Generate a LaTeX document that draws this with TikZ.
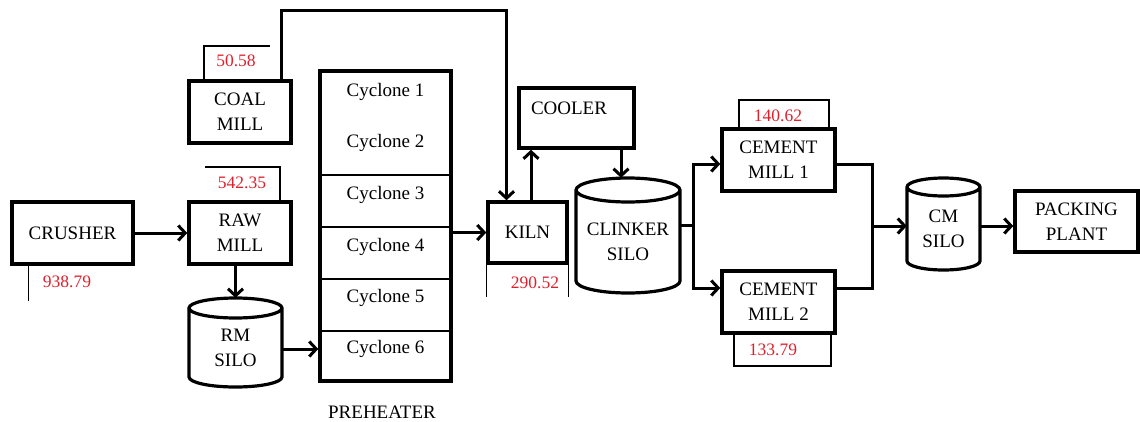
\documentclass[tikz,border=0pt]{standalone}
\usepackage{fontspec}
\setmainfont{Liberation Serif}
\usetikzlibrary{arrows.meta,calc}
\definecolor{lblred}{RGB}{222,32,45}
\tikzset{
 box/.style={draw, line width=3.4pt, inner sep=0pt, align=center, font=\fontsize{19}{25}\selectfont},
 conn/.style={line width=3pt},
 arr/.style={conn, -{Straight Barb[length=7pt,width=15pt]}},
 lbl/.style={text=lblred, font=\fontsize{17.5}{19}\selectfont, inner sep=0pt},
 frame/.style={line width=1.1pt},
 txt/.style={font=\fontsize{19}{25}\selectfont, align=center, inner sep=0pt},
 divider/.style={line width=1.6pt},
 silobody/.style={line width=3.2pt},
}
% #1 name, #2 x1, #3 ytop, #4 x2, #5 ybot, #6 rx, #7 ry, #8 text
\newcommand\mysilo[8]{%
 \node[inner sep=0pt, minimum width={#4-#2}, minimum height={#5-#3}] (#1) at ({(#2+#4)/2},{(#3+#5)/2}) {};
 \node[txt] at ({(#2+#4)/2},{(#3+#5)/2+#7/2}) {#8};
 \draw[silobody] (#2,{#3+#7}) -- (#2,{#5-#7})
   arc[start angle=180, end angle=360, x radius=#6pt, y radius=#7pt]
   -- (#4,{#3+#7})
   arc[start angle=0, end angle=360, x radius=#6pt, y radius=#7pt];
}
\begin{document}
\begin{tikzpicture}[x=1pt,y=-1pt]
\useasboundingbox (0,0) rectangle (1140,421);

% main boxes
\node[box, minimum width=121, minimum height=62] (crusher) at (72.5,233) {CRUSHER};
\node[box, minimum width=102, minimum height=62] (rawmill) at (240,233) {RAW\\MILL};
\node[box, minimum width=102, minimum height=62] (coalmill) at (240,112) {COAL\\MILL};
\node[box, minimum width=79, minimum height=61] (kiln) at (527.5,232.5) {KILN};
\node[box, minimum width=115, minimum height=60] (cooler) at (576.5,118) {};
\node[txt] (coolertxt) at (569,108) {COOLER};
\node[box, minimum width=113, minimum height=62] (cm1) at (778.5,160) {CEMENT\\MILL 1};
\node[box, minimum width=113, minimum height=62] (cm2) at (778.5,302) {CEMENT\\MILL 2};
\node[box, minimum width=123, minimum height=61] (packing) at (1076.5,221.5) {PACKING\\PLANT};

% preheater
\node[box, minimum width=131, minimum height=310] (preheater) at (385.5,226) {};
\foreach \yy in {175,227,279,331}
  \draw[divider] (preheater.west |- 0,\yy) -- (preheater.east |- 0,\yy);
\node[txt] (c1) at (385.5,92) {Cyclone 1};
\node[txt] (c2) at (385.5,143) {Cyclone 2};
\node[txt] (c3) at (385.5,195) {Cyclone 3};
\node[txt] (c4) at (385.5,247) {Cyclone 4};
\node[txt] (c5) at (385.5,298) {Cyclone 5};
\node[txt] (c6) at (385.5,349) {Cyclone 6};
\node[txt] (phlabel) at (382,412) {PREHEATER};

% silos
\mysilo{rmsilo}{189}{298}{282}{387}{46.5}{10}{RM\\SILO}
\mysilo{clinker}{576}{178}{680}{293}{52}{12}{CLINKER\\SILO}
\mysilo{cmsilo}{907}{178}{980}{270}{36.5}{9}{CM\\SILO}

% value labels
\draw[frame] (crusher.south west) ++(18,0) coordinate (crl) -- ++(0,35);
\node[lbl] (vcrusher) at (67,282) {938.79};
\draw[frame] (205,167) coordinate (rml) -- (280,167) -- (280,202);
\node[lbl] (vraw) at (242,183) {542.35};
\draw[frame] (204,81) -- (204,46) -- (270,46);
\node[lbl] (vcoal) at (236,61) {50.58};
\draw[frame] (kiln.south west) -- ++(0,32);
\draw[frame] (kiln.south east) -- ++(0,32);
\node[lbl] (vkiln) at (535,283) {290.52};
\draw[frame] (739,129) -- (739,100) -- (829,100) -- (829,129);
\node[lbl] (vcm1) at (778,116) {140.62};
\draw[frame] (734,333) -- (734,366) -- (831,366) -- (831,333);
\node[lbl] (vcm2) at (773,350) {133.79};

% connectors
\draw[arr] (crusher.east) -- (rawmill.west);
\draw[arr] (rawmill.south -| rmsilo.north) -- (rmsilo.north);
\draw[arr] (rmsilo.east |- c6) -- (preheater.west |- c6);
\draw[arr] (preheater.east |- kiln.west) -- (kiln.west);
\coordinate (coaltop) at (281,10);
\draw[arr] (coalmill.north -| coaltop) -- (coaltop) -| ([xshift=-21pt]kiln.north);
\draw[arr] ([xshift=3.5pt]kiln.north) -- ([xshift=3.5pt]kiln.north |- cooler.south);
\draw[arr] ([xshift=44.5pt]cooler.south) -- ([xshift=44.5pt]cooler.south |- clinker.north);
\coordinate (split) at (693,225);
\draw[conn] (clinker.east |- split) -- (split);
\draw[arr] (split) |- ([yshift=-4pt]cm1.west);
\draw[arr] (split) |- ([yshift=14pt]cm2.west);
\coordinate (merge) at (872,226);
\draw[conn] ([yshift=-4pt]cm1.east) -| (merge);
\draw[conn] ([yshift=14pt]cm2.east) -| (merge);
\draw[arr] (merge) -- (cmsilo.west |- merge);
\draw[arr] (cmsilo.east |- merge) -- (packing.west |- merge);
\end{tikzpicture}
\end{document}
